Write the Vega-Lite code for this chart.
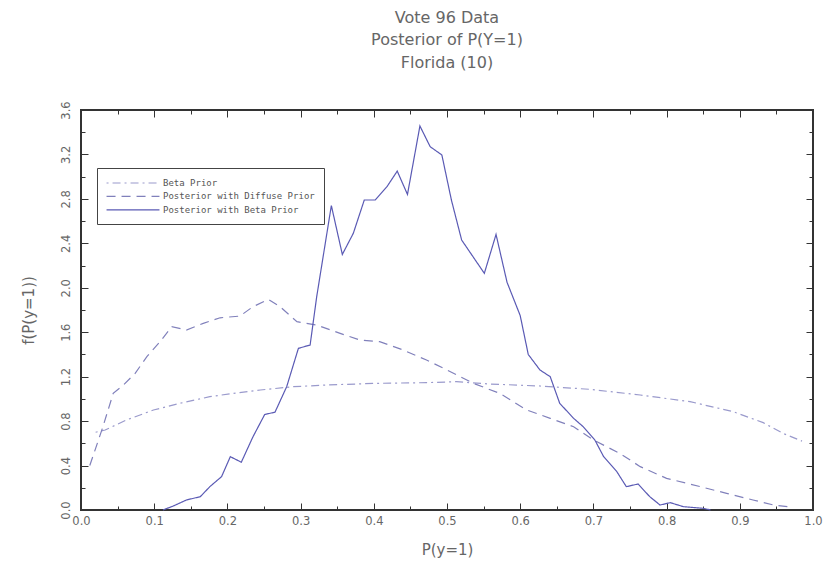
{
  "$schema": "https://vega.github.io/schema/vega-lite/v6.json",
  "width": 732,
  "height": 400,
  "autosize": {"type": "none"},
  "padding": {"left": 81, "top": 110, "right": 24, "bottom": 70},
  "background": "white",
  "config": {
    "view": {"stroke": "#333333", "strokeWidth": 2},
    "font": "DejaVu Sans",
    "axis": {"grid": false, "domain": false, "tickColor": "#333333", "labelColor": "#666666", "titleColor": "#666666", "labelFontWeight": "normal", "titleFontWeight": "normal"}
  },
  "title": {
    "text": ["Vote 96 Data", "Posterior of P(Y=1)", "Florida (10)"],
    "fontSize": 16,
    "fontWeight": "normal",
    "color": "#666666",
    "lineHeight": 22.5,
    "offset": 30,
    "anchor": "middle"
  },
  "data": {
    "values": [
      {"series": "Beta Prior", "x": 0.02, "y": 0.70},
      {"series": "Beta Prior", "x": 0.033, "y": 0.72},
      {"series": "Beta Prior", "x": 0.062, "y": 0.81},
      {"series": "Beta Prior", "x": 0.099, "y": 0.90},
      {"series": "Beta Prior", "x": 0.135, "y": 0.96},
      {"series": "Beta Prior", "x": 0.176, "y": 1.02},
      {"series": "Beta Prior", "x": 0.208, "y": 1.05},
      {"series": "Beta Prior", "x": 0.245, "y": 1.08},
      {"series": "Beta Prior", "x": 0.29, "y": 1.11},
      {"series": "Beta Prior", "x": 0.336, "y": 1.125},
      {"series": "Beta Prior", "x": 0.404, "y": 1.14},
      {"series": "Beta Prior", "x": 0.472, "y": 1.146},
      {"series": "Beta Prior", "x": 0.513, "y": 1.155},
      {"series": "Beta Prior", "x": 0.559, "y": 1.134},
      {"series": "Beta Prior", "x": 0.627, "y": 1.116},
      {"series": "Beta Prior", "x": 0.695, "y": 1.086},
      {"series": "Beta Prior", "x": 0.764, "y": 1.035},
      {"series": "Beta Prior", "x": 0.832, "y": 0.975},
      {"series": "Beta Prior", "x": 0.891, "y": 0.885},
      {"series": "Beta Prior", "x": 0.932, "y": 0.786},
      {"series": "Beta Prior", "x": 0.959, "y": 0.69},
      {"series": "Beta Prior", "x": 0.985, "y": 0.62},
      {"series": "Posterior with Diffuse Prior", "x": 0.012, "y": 0.40},
      {"series": "Posterior with Diffuse Prior", "x": 0.030, "y": 0.75},
      {"series": "Posterior with Diffuse Prior", "x": 0.044, "y": 1.05},
      {"series": "Posterior with Diffuse Prior", "x": 0.058, "y": 1.125},
      {"series": "Posterior with Diffuse Prior", "x": 0.074, "y": 1.23},
      {"series": "Posterior with Diffuse Prior", "x": 0.090, "y": 1.38},
      {"series": "Posterior with Diffuse Prior", "x": 0.108, "y": 1.515},
      {"series": "Posterior with Diffuse Prior", "x": 0.124, "y": 1.65},
      {"series": "Posterior with Diffuse Prior", "x": 0.144, "y": 1.62},
      {"series": "Posterior with Diffuse Prior", "x": 0.167, "y": 1.68},
      {"series": "Posterior with Diffuse Prior", "x": 0.19, "y": 1.73},
      {"series": "Posterior with Diffuse Prior", "x": 0.217, "y": 1.745},
      {"series": "Posterior with Diffuse Prior", "x": 0.235, "y": 1.83},
      {"series": "Posterior with Diffuse Prior", "x": 0.256, "y": 1.895},
      {"series": "Posterior with Diffuse Prior", "x": 0.272, "y": 1.83},
      {"series": "Posterior with Diffuse Prior", "x": 0.295, "y": 1.695},
      {"series": "Posterior with Diffuse Prior", "x": 0.322, "y": 1.665},
      {"series": "Posterior with Diffuse Prior", "x": 0.354, "y": 1.59},
      {"series": "Posterior with Diffuse Prior", "x": 0.381, "y": 1.53},
      {"series": "Posterior with Diffuse Prior", "x": 0.408, "y": 1.515},
      {"series": "Posterior with Diffuse Prior", "x": 0.44, "y": 1.44},
      {"series": "Posterior with Diffuse Prior", "x": 0.472, "y": 1.35},
      {"series": "Posterior with Diffuse Prior", "x": 0.50, "y": 1.26},
      {"series": "Posterior with Diffuse Prior", "x": 0.536, "y": 1.14},
      {"series": "Posterior with Diffuse Prior", "x": 0.572, "y": 1.05},
      {"series": "Posterior with Diffuse Prior", "x": 0.609, "y": 0.90},
      {"series": "Posterior with Diffuse Prior", "x": 0.641, "y": 0.825},
      {"series": "Posterior with Diffuse Prior", "x": 0.673, "y": 0.75},
      {"series": "Posterior with Diffuse Prior", "x": 0.70, "y": 0.63},
      {"series": "Posterior with Diffuse Prior", "x": 0.736, "y": 0.51},
      {"series": "Posterior with Diffuse Prior", "x": 0.764, "y": 0.39},
      {"series": "Posterior with Diffuse Prior", "x": 0.80, "y": 0.285},
      {"series": "Posterior with Diffuse Prior", "x": 0.846, "y": 0.21},
      {"series": "Posterior with Diffuse Prior", "x": 0.882, "y": 0.15},
      {"series": "Posterior with Diffuse Prior", "x": 0.918, "y": 0.09},
      {"series": "Posterior with Diffuse Prior", "x": 0.946, "y": 0.045},
      {"series": "Posterior with Diffuse Prior", "x": 0.965, "y": 0.03},
      {"series": "Posterior with Beta Prior", "x": 0.112, "y": 0.0},
      {"series": "Posterior with Beta Prior", "x": 0.126, "y": 0.036},
      {"series": "Posterior with Beta Prior", "x": 0.144, "y": 0.09},
      {"series": "Posterior with Beta Prior", "x": 0.163, "y": 0.12},
      {"series": "Posterior with Beta Prior", "x": 0.176, "y": 0.21},
      {"series": "Posterior with Beta Prior", "x": 0.192, "y": 0.30},
      {"series": "Posterior with Beta Prior", "x": 0.204, "y": 0.48},
      {"series": "Posterior with Beta Prior", "x": 0.219, "y": 0.43},
      {"series": "Posterior with Beta Prior", "x": 0.235, "y": 0.66},
      {"series": "Posterior with Beta Prior", "x": 0.251, "y": 0.86},
      {"series": "Posterior with Beta Prior", "x": 0.265, "y": 0.88},
      {"series": "Posterior with Beta Prior", "x": 0.281, "y": 1.11},
      {"series": "Posterior with Beta Prior", "x": 0.297, "y": 1.455},
      {"series": "Posterior with Beta Prior", "x": 0.313, "y": 1.485},
      {"series": "Posterior with Beta Prior", "x": 0.322, "y": 1.92},
      {"series": "Posterior with Beta Prior", "x": 0.342, "y": 2.74},
      {"series": "Posterior with Beta Prior", "x": 0.357, "y": 2.30},
      {"series": "Posterior with Beta Prior", "x": 0.372, "y": 2.49},
      {"series": "Posterior with Beta Prior", "x": 0.387, "y": 2.79},
      {"series": "Posterior with Beta Prior", "x": 0.402, "y": 2.79},
      {"series": "Posterior with Beta Prior", "x": 0.418, "y": 2.91},
      {"series": "Posterior with Beta Prior", "x": 0.432, "y": 3.05},
      {"series": "Posterior with Beta Prior", "x": 0.446, "y": 2.84},
      {"series": "Posterior with Beta Prior", "x": 0.463, "y": 3.456},
      {"series": "Posterior with Beta Prior", "x": 0.477, "y": 3.27},
      {"series": "Posterior with Beta Prior", "x": 0.493, "y": 3.195},
      {"series": "Posterior with Beta Prior", "x": 0.506, "y": 2.79},
      {"series": "Posterior with Beta Prior", "x": 0.52, "y": 2.43},
      {"series": "Posterior with Beta Prior", "x": 0.551, "y": 2.13},
      {"series": "Posterior with Beta Prior", "x": 0.567, "y": 2.48},
      {"series": "Posterior with Beta Prior", "x": 0.582, "y": 2.05},
      {"series": "Posterior with Beta Prior", "x": 0.60, "y": 1.75},
      {"series": "Posterior with Beta Prior", "x": 0.611, "y": 1.40},
      {"series": "Posterior with Beta Prior", "x": 0.627, "y": 1.26},
      {"series": "Posterior with Beta Prior", "x": 0.641, "y": 1.20},
      {"series": "Posterior with Beta Prior", "x": 0.654, "y": 0.96},
      {"series": "Posterior with Beta Prior", "x": 0.673, "y": 0.825},
      {"series": "Posterior with Beta Prior", "x": 0.686, "y": 0.75},
      {"series": "Posterior with Beta Prior", "x": 0.702, "y": 0.63},
      {"series": "Posterior with Beta Prior", "x": 0.714, "y": 0.48},
      {"series": "Posterior with Beta Prior", "x": 0.732, "y": 0.345},
      {"series": "Posterior with Beta Prior", "x": 0.745, "y": 0.21},
      {"series": "Posterior with Beta Prior", "x": 0.761, "y": 0.234},
      {"series": "Posterior with Beta Prior", "x": 0.777, "y": 0.12},
      {"series": "Posterior with Beta Prior", "x": 0.791, "y": 0.045},
      {"series": "Posterior with Beta Prior", "x": 0.805, "y": 0.066},
      {"series": "Posterior with Beta Prior", "x": 0.823, "y": 0.03},
      {"series": "Posterior with Beta Prior", "x": 0.85, "y": 0.015},
      {"series": "Posterior with Beta Prior", "x": 0.86, "y": 0.0}
    ]
  },
  "resolve": {"axis": {"x": "independent", "y": "independent"}},
  "layer": [
    {
      "mark": {"type": "line", "strokeWidth": 1.2},
      "encoding": {
        "x": {"field": "x", "type": "quantitative",
          "scale": {"domain": [0, 1], "nice": false, "zero": false},
          "axis": {"orient": "bottom", "title": "P(y=1)", "values": [0, 0.1, 0.2, 0.3, 0.4, 0.5, 0.6, 0.7, 0.8, 0.9, 1.0], "format": ".1f", "tickSize": -7, "labelPadding": 12, "labelFontSize": 11.5, "titleFontSize": 15, "titlePadding": 16, "labelFlush": false}},
        "y": {"field": "y", "type": "quantitative",
          "scale": {"domain": [0, 3.6], "nice": false},
          "axis": {"orient": "left", "title": "f(P(y=1))", "values": [0, 0.4, 0.8, 1.2, 1.6, 2.0, 2.4, 2.8, 3.2, 3.6], "format": ".1f", "tickSize": -7, "labelAngle": 270, "labelAlign": "center", "labelBaseline": "bottom", "labelPadding": 17, "labelFontSize": 11.5, "titleFontSize": 15, "titlePadding": 24, "labelFlush": false}},
        "color": {"field": "series", "type": "nominal",
          "scale": {"domain": ["Beta Prior", "Posterior with Diffuse Prior", "Posterior with Beta Prior"], "range": ["#9a9acc", "#8080bb", "#5a5ab4"]},
          "legend": {"title": null, "orient": "none", "legendX": 16, "legendY": 58, "strokeColor": "#444444", "padding": 9, "symbolType": "M-5,0H5", "symbolSize": 112, "symbolOffset": 21, "symbolStrokeWidth": 1.2, "labelFont": "DejaVu Sans Mono", "labelFontSize": 9, "labelColor": "#555555", "labelOffset": 24, "rowPadding": 2.4, "labelLimit": 300}},
        "strokeDash": {"field": "series", "type": "nominal",
          "scale": {"domain": ["Beta Prior", "Posterior with Diffuse Prior", "Posterior with Beta Prior"], "range": [[2, 4, 8, 4], [9, 6], [1, 0]]},
          "legend": null}
      }
    },
    {
      "mark": {"type": "point", "opacity": 0},
      "encoding": {
        "x": {"field": "x", "type": "quantitative", "axis": {"orient": "bottom", "title": null, "labels": false, "values": [0.05, 0.15, 0.25, 0.35, 0.45, 0.55, 0.65, 0.75, 0.85, 0.95], "tickSize": -4}},
        "y": {"field": "y", "type": "quantitative", "axis": {"orient": "left", "title": null, "labels": false, "values": [0.2, 0.6, 1.0, 1.4, 1.8, 2.2, 2.6, 3.0, 3.4], "tickSize": -4}}
      }
    },
    {
      "mark": {"type": "point", "opacity": 0},
      "encoding": {
        "x": {"field": "x", "type": "quantitative", "axis": {"orient": "top", "title": null, "labels": false, "values": [0, 0.1, 0.2, 0.3, 0.4, 0.5, 0.6, 0.7, 0.8, 0.9, 1.0], "tickSize": -7}},
        "y": {"field": "y", "type": "quantitative", "axis": {"orient": "right", "title": null, "labels": false, "values": [0, 0.4, 0.8, 1.2, 1.6, 2.0, 2.4, 2.8, 3.2, 3.6], "tickSize": -7}}
      }
    },
    {
      "mark": {"type": "point", "opacity": 0},
      "encoding": {
        "x": {"field": "x", "type": "quantitative", "axis": {"orient": "top", "title": null, "labels": false, "values": [0.05, 0.15, 0.25, 0.35, 0.45, 0.55, 0.65, 0.75, 0.85, 0.95], "tickSize": -4}},
        "y": {"field": "y", "type": "quantitative", "axis": {"orient": "right", "title": null, "labels": false, "values": [0.2, 0.6, 1.0, 1.4, 1.8, 2.2, 2.6, 3.0, 3.4], "tickSize": -4}}
      }
    }
  ]
}
